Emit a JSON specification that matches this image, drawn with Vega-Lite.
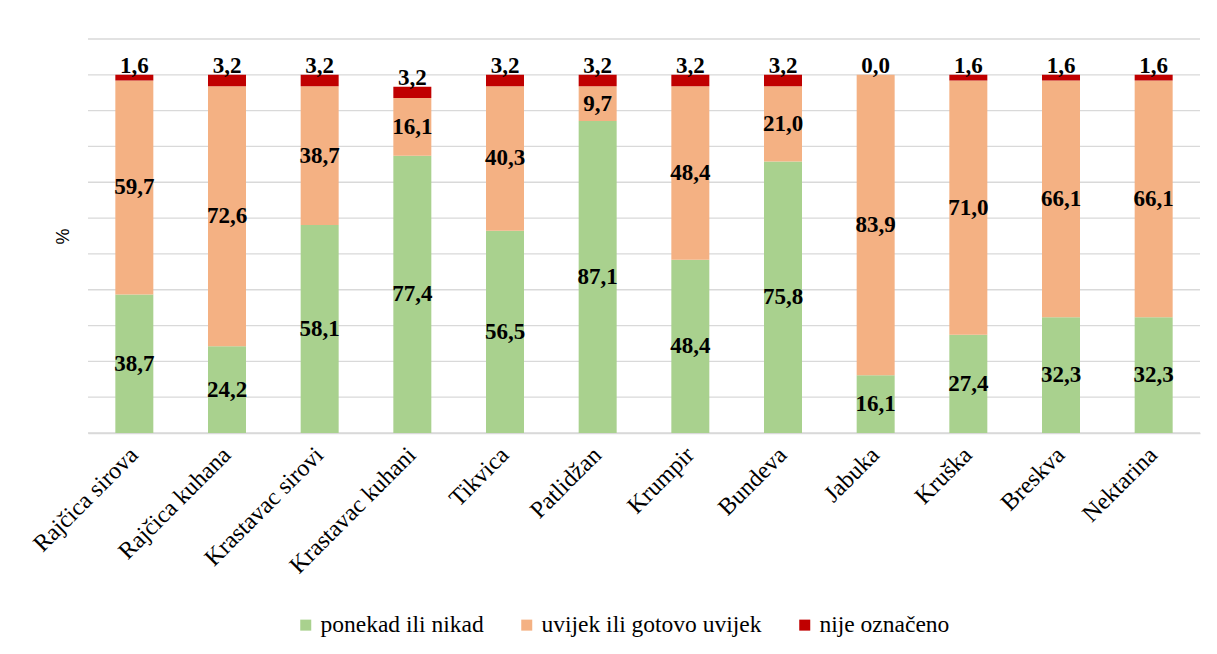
{
  "$schema": "https://vega.github.io/schema/vega-lite/v6.json",
  "width": 1112,
  "height": 394,
  "autosize": {"type": "none"},
  "padding": {"left": 88, "top": 39, "right": 17, "bottom": 221},
  "background": "white",
  "config": {
    "font": "Liberation Serif",
    "view": {"stroke": null},
    "locale": {"number": {"decimal": ",", "thousands": ".", "grouping": [3], "currency": ["", ""]}},
    "axis": {"domainColor": "#d9d9d9", "domainWidth": 1.3, "labelFont": "Liberation Serif"},
    "legend": {"labelFont": "Liberation Serif"},
    "text": {"font": "Liberation Serif"},
    "axisY": {
      "title": "%",
      "titleFont": "Liberation Sans",
      "titleFontSize": 18,
      "titleFontWeight": "normal",
      "titleColor": "#000000",
      "titlePadding": 16,
      "labels": false,
      "ticks": false,
      "domain": false,
      "grid": false
    }
  },
  "datasets": {
    "grid": [{"g": 0}, {"g": 10}, {"g": 20}, {"g": 30}, {"g": 40}, {"g": 50}, {"g": 60}, {"g": 70}, {"g": 80}, {"g": 90}, {"g": 100}, {"g": 110}],
    "main": [
      {"cat": "Rajčica sirova", "series": "ponekad ili nikad", "o": 1, "value": 38.7},
      {"cat": "Rajčica sirova", "series": "uvijek ili gotovo uvijek", "o": 2, "value": 59.7},
      {"cat": "Rajčica sirova", "series": "nije označeno", "o": 3, "value": 1.6},
      {"cat": "Rajčica kuhana", "series": "ponekad ili nikad", "o": 1, "value": 24.2},
      {"cat": "Rajčica kuhana", "series": "uvijek ili gotovo uvijek", "o": 2, "value": 72.6},
      {"cat": "Rajčica kuhana", "series": "nije označeno", "o": 3, "value": 3.2},
      {"cat": "Krastavac sirovi", "series": "ponekad ili nikad", "o": 1, "value": 58.1},
      {"cat": "Krastavac sirovi", "series": "uvijek ili gotovo uvijek", "o": 2, "value": 38.7},
      {"cat": "Krastavac sirovi", "series": "nije označeno", "o": 3, "value": 3.2},
      {"cat": "Krastavac kuhani", "series": "ponekad ili nikad", "o": 1, "value": 77.4},
      {"cat": "Krastavac kuhani", "series": "uvijek ili gotovo uvijek", "o": 2, "value": 16.1},
      {"cat": "Krastavac kuhani", "series": "nije označeno", "o": 3, "value": 3.2},
      {"cat": "Tikvica", "series": "ponekad ili nikad", "o": 1, "value": 56.5},
      {"cat": "Tikvica", "series": "uvijek ili gotovo uvijek", "o": 2, "value": 40.3},
      {"cat": "Tikvica", "series": "nije označeno", "o": 3, "value": 3.2},
      {"cat": "Patlidžan", "series": "ponekad ili nikad", "o": 1, "value": 87.1},
      {"cat": "Patlidžan", "series": "uvijek ili gotovo uvijek", "o": 2, "value": 9.7},
      {"cat": "Patlidžan", "series": "nije označeno", "o": 3, "value": 3.2},
      {"cat": "Krumpir", "series": "ponekad ili nikad", "o": 1, "value": 48.4},
      {"cat": "Krumpir", "series": "uvijek ili gotovo uvijek", "o": 2, "value": 48.4},
      {"cat": "Krumpir", "series": "nije označeno", "o": 3, "value": 3.2},
      {"cat": "Bundeva", "series": "ponekad ili nikad", "o": 1, "value": 75.8},
      {"cat": "Bundeva", "series": "uvijek ili gotovo uvijek", "o": 2, "value": 21.0},
      {"cat": "Bundeva", "series": "nije označeno", "o": 3, "value": 3.2},
      {"cat": "Jabuka", "series": "ponekad ili nikad", "o": 1, "value": 16.1},
      {"cat": "Jabuka", "series": "uvijek ili gotovo uvijek", "o": 2, "value": 83.9},
      {"cat": "Jabuka", "series": "nije označeno", "o": 3, "value": 0.0},
      {"cat": "Kruška", "series": "ponekad ili nikad", "o": 1, "value": 27.4},
      {"cat": "Kruška", "series": "uvijek ili gotovo uvijek", "o": 2, "value": 71.0},
      {"cat": "Kruška", "series": "nije označeno", "o": 3, "value": 1.6},
      {"cat": "Breskva", "series": "ponekad ili nikad", "o": 1, "value": 32.3},
      {"cat": "Breskva", "series": "uvijek ili gotovo uvijek", "o": 2, "value": 66.1},
      {"cat": "Breskva", "series": "nije označeno", "o": 3, "value": 1.6},
      {"cat": "Nektarina", "series": "ponekad ili nikad", "o": 1, "value": 32.3},
      {"cat": "Nektarina", "series": "uvijek ili gotovo uvijek", "o": 2, "value": 66.1},
      {"cat": "Nektarina", "series": "nije označeno", "o": 3, "value": 1.6}
    ]
  },
  "layer": [
    {
      "data": {"name": "grid"},
      "mark": {"type": "rule", "color": "#d9d9d9", "strokeWidth": 1.3},
      "encoding": {
        "y": {
          "field": "g",
          "type": "quantitative",
          "scale": {"domain": [0, 110], "nice": false},
          "axis": {"title": "%"}
        }
      }
    },
    {
      "data": {"name": "main"},
      "transform": [
        {"stack": "value", "groupby": ["cat"], "sort": [{"field": "o", "order": "ascending"}], "as": ["v0", "v1"]},
        {"calculate": "(datum.v0 + datum.v1) / 2", "as": "mid"}
      ],
      "encoding": {
        "x": {
          "field": "cat",
          "type": "nominal",
          "sort": null,
          "scale": {"paddingInner": 0.59, "paddingOuter": 0.295},
          "axis": {
            "title": null,
            "labelAngle": -45,
            "labelAlign": "right",
            "labelBaseline": "middle",
            "labelPadding": 18,
            "labelFont": "Liberation Serif",
            "labelFontSize": 24,
            "labelColor": "#000000",
            "labelLimit": 0,
            "ticks": false,
            "grid": false
          }
        }
      },
      "layer": [
        {
          "mark": {"type": "bar"},
          "encoding": {
            "y": {"field": "v0", "type": "quantitative"},
            "y2": {"field": "v1"},
            "color": {
              "field": "series",
              "type": "nominal",
              "scale": {
                "domain": ["ponekad ili nikad", "uvijek ili gotovo uvijek", "nije označeno"],
                "range": ["#a9d18e", "#f4b183", "#c00000"]
              },
              "legend": {
                "title": null,
                "orient": "none",
                "direction": "horizontal",
                "legendX": 206,
                "legendY": 574,
                "symbolType": "square",
                "symbolSize": 121,
                "symbolStrokeWidth": 0,
                "labelFont": "Liberation Serif",
                "labelFontSize": 23.5,
                "labelColor": "#000000",
                "labelLimit": 0,
                "labelOffset": 3,
                "columnPadding": 31,
                "padding": 0
              }
            }
          }
        },
        {
          "transform": [{"filter": "datum.o < 3"}],
          "mark": {"type": "text", "font": "Liberation Serif", "fontSize": 23, "fontWeight": "bold", "color": "#000000", "baseline": "middle"},
          "encoding": {
            "y": {"field": "mid", "type": "quantitative"},
            "text": {"field": "value", "type": "quantitative", "format": ".1f"}
          }
        },
        {
          "transform": [{"filter": "datum.o == 3"}],
          "mark": {"type": "text", "font": "Liberation Serif", "fontSize": 23, "fontWeight": "bold", "color": "#000000", "baseline": "alphabetic", "dy": -2},
          "encoding": {
            "y": {"field": "v1", "type": "quantitative"},
            "text": {"field": "value", "type": "quantitative", "format": ".1f"}
          }
        }
      ]
    }
  ]
}
